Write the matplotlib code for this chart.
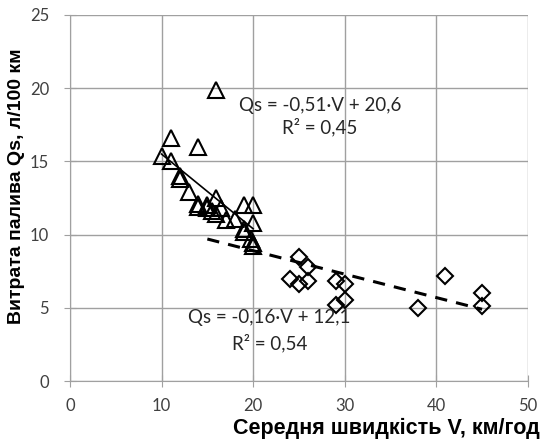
import numpy as np
import matplotlib
matplotlib.use("Agg")
import matplotlib.pyplot as plt

# DATA
# triangles: lower speed group
tri_v = [10, 11, 11, 14, 16, 12, 12, 13, 14, 14, 15, 15, 15.5, 16, 16, 16.5,
         17, 18, 19, 20, 20, 19, 19, 19.8, 20, 20]
tri_q = [15.4, 16.6, 15.0, 16.0, 19.9, 14.0, 13.8, 12.9, 11.9, 12.1, 12.0, 11.8,
         11.6, 12.5, 11.4, 11.8, 11.0, 11.1, 12.0, 12.0, 10.8, 10.4, 10.2, 9.7,
         9.4, 9.2]
# diamonds: higher speed group
dia_v = [25, 26, 24, 25, 26, 29, 30, 30, 29, 38, 41, 45, 45]
dia_q = [8.5, 7.8, 7.0, 6.6, 6.8, 6.8, 6.6, 5.5, 5.2, 5.0, 7.2, 6.0, 5.1]

# trend lines as printed on the chart: slope, intercept, range
tri_fit = (-0.51, 20.6, 10, 20)
dia_fit = (-0.16, 12.1, 15, 45)

xticks = [0, 10, 20, 30, 40, 50]
yticks = [0, 5, 10, 15, 20, 25]

plt.rcParams['font.family'] = ['Lato', 'DejaVu Sans']

fig = plt.figure(figsize=(5.51, 4.41), dpi=100)
ax = fig.add_axes([0.127, 0.136, 0.831, 0.830])

grey = '#a0a0a0'
ax.grid(True, color=grey, linewidth=1)
ax.set_axisbelow(True)

ax.plot(tri_v, tri_q, linestyle='none', marker='^', markersize=11.5,
        markerfacecolor='none', markeredgecolor='black', markeredgewidth=1.5)
ax.plot(dia_v, dia_q, linestyle='none', marker='D', markersize=8.5,
        markerfacecolor='none', markeredgecolor='black', markeredgewidth=1.5)

k, b, x0, x1 = tri_fit
xs = np.array([x0, x1])
ax.plot(xs, k * xs + b, color='black', linewidth=1.2)
k, b, x0, x1 = dia_fit
xs = np.array([x0, x1])
ax.plot(xs, k * xs + b, color='black', linewidth=2.2, dashes=(4, 3))

fs = 13.5
ax.text(27.3, 18.85, 'Qs = -0,51·V + 20,6', ha='center', va='center', fontsize=fs, color='#262626')
ax.text(27.3, 17.35, 'R² = 0,45', ha='center', va='center', fontsize=fs, color='#262626')
ax.text(21.8, 4.37, 'Qs = -0,16·V + 12,1', ha='center', va='center', fontsize=fs, color='#262626')
ax.text(21.8, 2.6, 'R² = 0,54', ha='center', va='center', fontsize=fs, color='#262626')

ax.set_xlim(0, 50)
ax.set_ylim(0, 25)
ax.set_xticks(xticks)
ax.set_yticks(yticks)
for s in ['top', 'right']:
    ax.spines[s].set_visible(False)
for s in ['left', 'bottom']:
    ax.spines[s].set_color(grey)
ax.tick_params(direction='inout', length=8, color=grey, labelsize=12, labelcolor='#404040')
ax.tick_params(axis='y', pad=11)
ax.tick_params(axis='x', pad=8)

ax.set_xlabel('Середня швидкість V, км/год', fontsize=15.5, fontweight='bold',
              family='Liberation Sans', loc='right')
ax.xaxis.set_label_coords(1.026, -0.102)
ax.set_ylabel('Витрата палива Qs, л/100 км', fontsize=14, fontweight='bold',
              family='Liberation Sans')
ax.yaxis.set_label_coords(-0.098, 0.533)

fig.savefig('out.png', dpi=100)
